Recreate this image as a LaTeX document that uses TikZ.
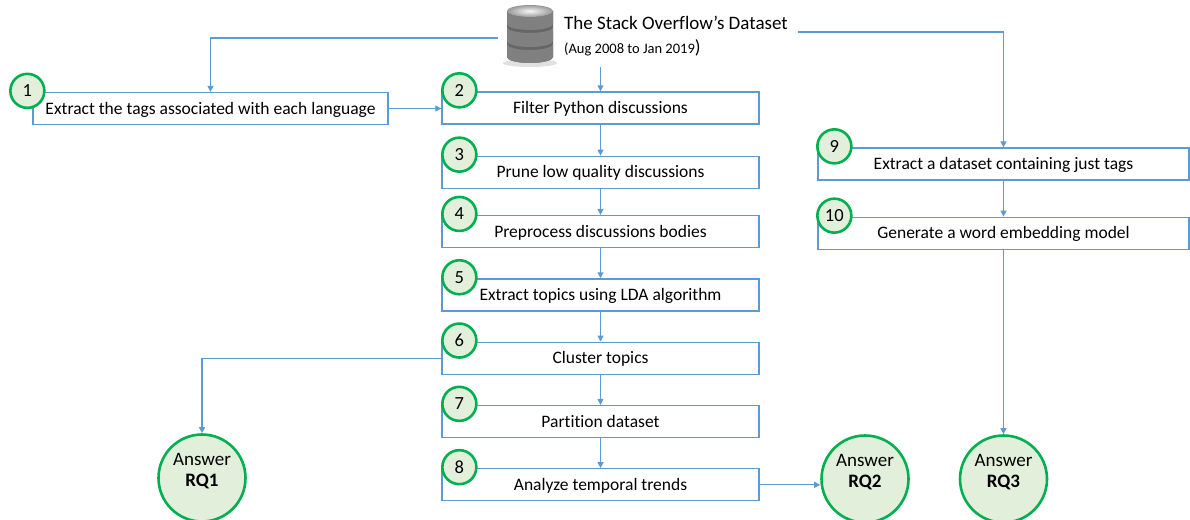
\documentclass[tikz,border=0pt]{standalone}
\usepackage{fontspec}
\setmainfont{Carlito}[Ligatures=NoCommon]
\usepackage{xcolor}
\usepackage{tikz}
\usetikzlibrary{arrows.meta, positioning, calc}

\definecolor{boxblue}{HTML}{5B9BD5}
\definecolor{numgreen}{HTML}{00B050}
\definecolor{numfill}{HTML}{E2EFDA}

\begin{document}
\begin{tikzpicture}[
		x=1pt, y=-1pt,
		font=\fontsize{17.5}{20}\selectfont,
		node distance=30pt,
		box/.style={
			draw=boxblue,
			line width=1.3pt,
			align=center,
			inner sep=0pt,
			text height=14pt,
			text depth=3pt,
			minimum width=317pt,
			minimum height=32pt
		},
		tagbox/.style={box,minimum width=355pt},
		widebox/.style={box,minimum width=371pt},
		num/.style={circle,draw=numgreen,fill=numfill,line width=2.6pt,
			minimum size=34pt,inner sep=0pt,font=\fontsize{18.5}{18.5}\selectfont},
		answer/.style={circle,draw=numgreen,fill=numfill,line width=2.6pt,
			minimum size=87pt,inner sep=0pt},
		ans/.style={align=center,yshift=7pt,font=\fontsize{19}{21}\selectfont},
		arrow/.style={-{Triangle[length=6pt,width=6pt]},draw=boxblue,line width=1.2pt}
	]
	\useasboundingbox (0,0) rectangle (1190,519);
	
	% database icon
	\node[minimum width=47pt,minimum height=59pt] (db) at (530,34) {};
	\fill[black!12] (530,63) ellipse [x radius=27, y radius=4];
	\fill[black!60] (507,11) -- (507,57) arc[start angle=180,end angle=0,x radius=23,y radius=6] -- (553,11) -- cycle;
	\foreach \t/\b in {11/24,27/41,44/57}
		\shade[left color=black!50,middle color=black!4,right color=black!50]
			(507,\t) -- (507,\b) arc[start angle=180,end angle=0,x radius=23,y radius=6]
			-- (553,\t) arc[start angle=0,end angle=180,x radius=23,y radius=6] -- cycle;
	\shade[inner color=black!3,outer color=black!40] (530,11) ellipse [x radius=23, y radius=6];
	
	\node[anchor=base west,inner sep=2pt,font=\fontsize{19}{22}\selectfont] (title) at (562,30) {The Stack Overflow’s Dataset};
	\node[anchor=base west,inner sep=2pt,font=\fontsize{14.5}{16}\selectfont] (sub) at (562,53) {(Aug 2008 to Jan 2019\fontsize{19}{22}\selectfont)};
	
	% steps
	\node[tagbox] (s1) at (210.5,108.5) {Extract the tags associated with each language};
	\node[box] (s2) at (600.5,108) {Filter Python discussions};
	\node[box,below=31pt of s2] (s3) {Prune low quality discussions};
	\node[box,below=26pt of s3] (s4) {Preprocess discussions bodies};
	\node[box,below=of s4] (s5) {Extract topics using LDA algorithm};
	\node[box,below=of s5] (s6) {Cluster topics};
	\node[box,below=of s6] (s7) {Partition dataset};
	\node[box,below=of s7] (s8) {Analyze temporal trends};
	
	\node[widebox] (s9) at (1003.5,164) {Extract a dataset containing just tags};
	\node[widebox,below=36pt of s9] (s10) {Generate a word embedding model};
	
	% answers
	\node[answer,label={[ans]center:{Answer\\\textbf{RQ1}}}] (rq1) at (202,478) {};
	\node[answer,label={[ans]center:{Answer\\\textbf{RQ2}}}] (rq2) at (865,479) {};
	\node[answer,label={[ans]center:{Answer\\\textbf{RQ3}}}] (rq3) at (1003.5,479) {};
	
	% arrows
	\draw[arrow] ([xshift=-8pt,yshift=-4pt]db.west) -| (s1.north);
	\draw[arrow] ([xshift=8pt,yshift=-2pt]title.base east) -| (s9.north);
	\draw[arrow] ([yshift=24pt]s2.north) -- (s2.north);
	\draw[arrow] (s1.east) -- (s1.east -| s2.west);
	\foreach \a/\b in {2/3,3/4,4/5,5/6,6/7,7/8,9/10}
		\draw[arrow] (s\a) -- (s\b);
	\draw[arrow] (s6.west) -| (rq1.north);
	\draw[arrow] (s8.east) -- (s8.east -| rq2.west);
	\draw[arrow] (s10) -- (rq3);
	
	% step numbers
	\node[num] (n1) at ([xshift=-5pt,yshift=1pt]s1.north west) {1};
	\foreach \i in {2,...,8}
		\node[num] (n\i) at ([xshift=18pt,yshift=1pt]s\i.north west) {\i};
	\foreach \i in {9,10}
		\node[num] (n\i) at ([xshift=17pt,yshift=1pt]s\i.north west) {\i};
	
\end{tikzpicture}
\end{document}
